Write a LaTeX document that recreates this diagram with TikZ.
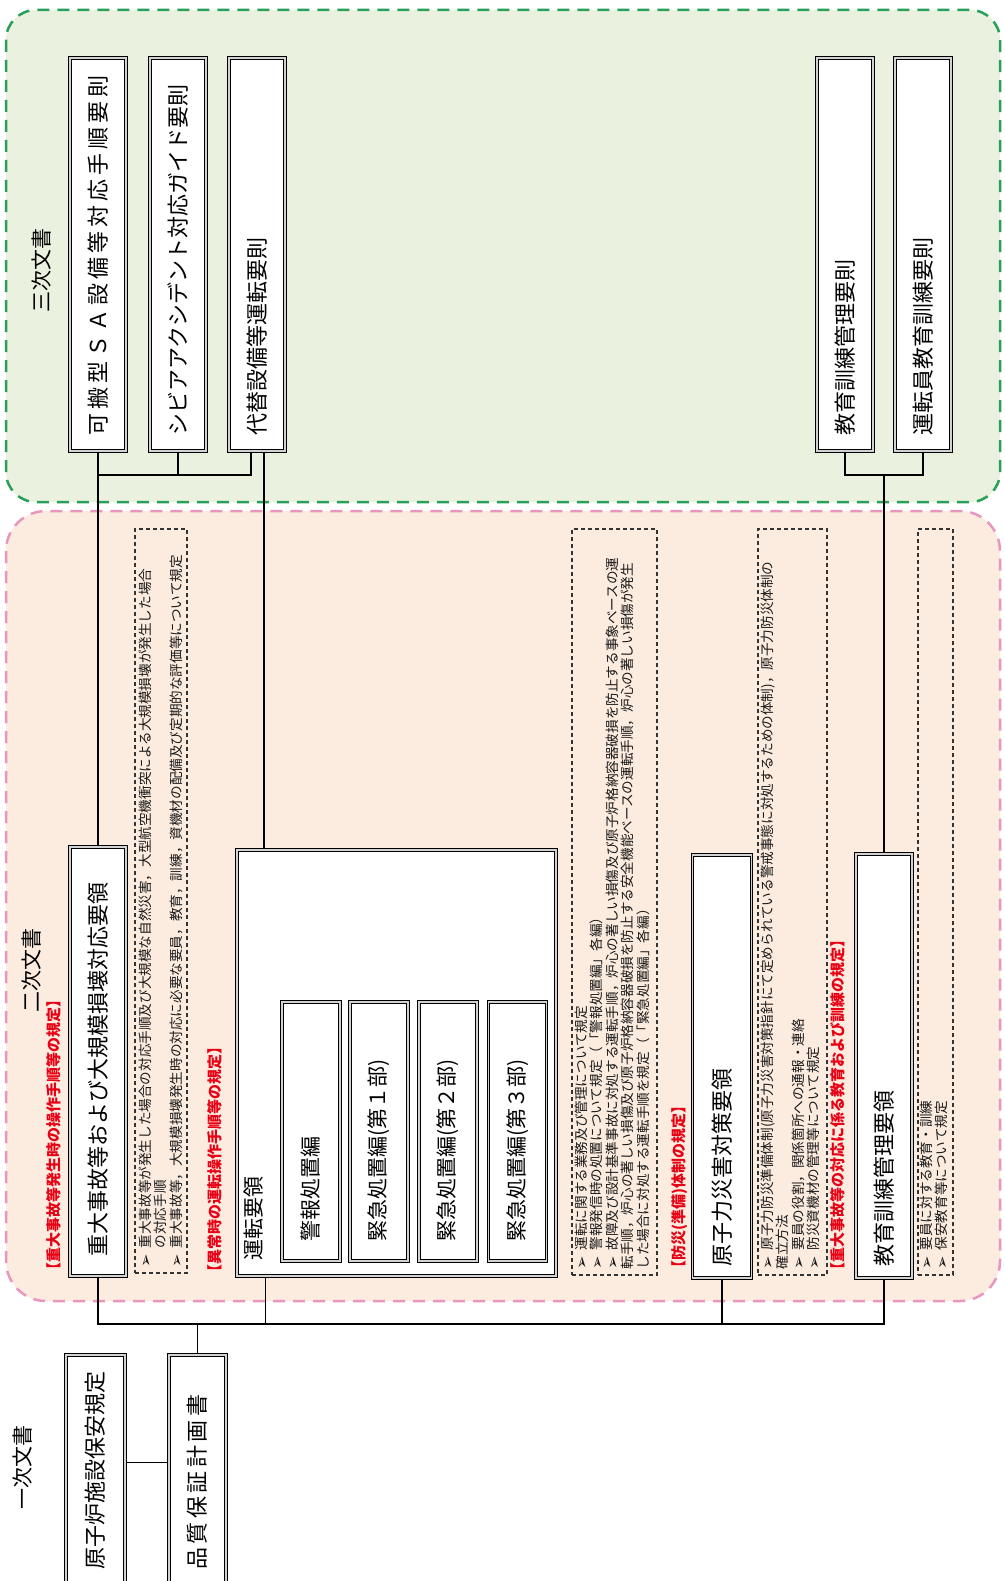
\documentclass[tikz,border=0pt]{standalone}
\usepackage{fontspec}
\setmainfont{Noto Sans CJK JP}
\newfontfamily\dejavu{DejaVu Sans}
\definecolor{pinkfill}{RGB}{252,235,223}
\definecolor{pinkline}{RGB}{232,150,190}
\definecolor{greenfill}{RGB}{234,241,223}
\definecolor{greenline}{RGB}{40,160,90}
\definecolor{labred}{RGB}{232,0,20}
\newcommand\notebul{\makebox[1.4em][l]{\raisebox{-1pt}{\dejavu\fontsize{16}{16}\selectfont ➢}}}
\newcommand\noteind{\hspace*{1.4em}}
\newcommand\spc{\hspace{3.5pt}}
\newcommand\spk{\hspace{4pt}}
\tikzset{
  region/.style={line width=2.5pt, dash pattern=on 12pt off 8pt},
  dbox/.style={draw=black, line width=1.1pt, double=gray!35, double distance=1.6pt, fill=white, inner sep=0pt},
  title/.style={rotate=90, anchor=west, font=\fontsize{22}{22}\selectfont, inner sep=0pt},
  subtitle/.style={rotate=90, anchor=west, font=\fontsize{21}{21}\selectfont, inner sep=0pt},
  level/.style={rotate=90, font=\fontsize{21}{21}\selectfont, inner sep=0pt},
  notebox/.style={draw=black!80, line width=1.2pt, dash pattern=on 4pt off 3pt, inner sep=0pt},
  notetext/.style={rotate=90, anchor=north west, align=left, font=\fontsize{13.6}{15.5}\selectfont, inner sep=0pt, text=black!90},
  redlab/.style={rotate=90, anchor=west, font=\bfseries\fontsize{15}{15}\selectfont, text=labred, inner sep=0pt},
  conn/.style={draw=black, line width=1.8pt}
}
\begin{document}
\begin{tikzpicture}[x=1pt,y=-1pt]
\useasboundingbox (0,0) rectangle (1004,1581);
% regions
\draw[region, fill=greenfill, draw=greenline, rounded corners=30pt] (6,10) rectangle (1000,502);
\draw[region, fill=pinkfill, draw=pinkline, rounded corners=40pt] (6,511) rectangle (1000,1301);
% level labels
\node[level] (lv3) at (42,270) {三次文書};
\node[level] (lv2) at (32,970) {二次文書};
\node[level] (lv1) at (23,1467) {一次文書};
% third-level boxes
\node[dbox, minimum width=56pt, minimum height=393pt] (kahan) at (98,254.5) {};
\node[dbox, minimum width=56pt, minimum height=393pt] (shibia) at (178,254.5) {};
\node[dbox, minimum width=56pt, minimum height=393pt] (daitai) at (257,254.5) {};
\node[dbox, minimum width=56pt, minimum height=393pt] (kyoikuR) at (845,254.5) {};
\node[dbox, minimum width=56pt, minimum height=393pt] (untenR) at (923,254.5) {};
\node[title] at ([yshift=16pt]kahan.south) {可\spk 搬\spk 型\spk Ｓ\spk Ａ\spk 設\spk 備\spk 等\spk 対\spk 応\spk 手\spk 順\spk 要\spk 則};
\node[title] at ([yshift=16pt]shibia.south) {シビアアクシデント対応ガイド要則};
\node[title] at ([yshift=16pt]daitai.south) {代替設備等運転要則};
\node[title] at ([yshift=16pt]kyoikuR.south) {教育訓練管理要則};
\node[title] at ([yshift=16pt]untenR.south) {運転員教育訓練要則};
% second-level boxes
\node[dbox, minimum width=56pt, minimum height=429pt] (juudai) at (98,1061.5) {};
\node[title] at ([yshift=20pt]juudai.south) {重大事故等および大規模損壊対応要領};
\node[dbox, minimum width=319pt, minimum height=426pt] (unten) at (396.5,1063) {};
\node[subtitle] at ([xshift=17pt,yshift=16pt]unten.south west) {運転要領};
\node[dbox, minimum width=58pt, minimum height=259pt] (keiho) at (311,1131.5) {};
\node[dbox, minimum width=58pt, minimum height=259pt] (kin1) at (379,1131.5) {};
\node[dbox, minimum width=58pt, minimum height=259pt] (kin2) at (448,1131.5) {};
\node[dbox, minimum width=58pt, minimum height=259pt] (kin3) at (517.5,1131.5) {};
\node[subtitle] at ([yshift=20pt]keiho.south) {警報処置編};
\node[subtitle] at ([yshift=20pt]kin1.south) {緊急処置編(第１部)};
\node[subtitle] at ([yshift=20pt]kin2.south) {緊急処置編(第２部)};
\node[subtitle] at ([yshift=20pt]kin3.south) {緊急処置編(第３部)};
\node[dbox, minimum width=59pt, minimum height=423pt] (genshi) at (722,1066.5) {};
\node[title] at ([yshift=12pt]genshi.south) {原子力災害対策要領};
\node[dbox, minimum width=56pt, minimum height=424pt] (kyoikuK) at (884,1066) {};
\node[title] at ([yshift=12pt]kyoikuK.south) {教育訓練管理要領};
% first-level boxes
\node[dbox, minimum width=59pt, minimum height=245pt] (hoan) at (95.5,1477.5) {};
\node[dbox, minimum width=57pt, minimum height=245pt] (hinshitsu) at (197.5,1477.5) {};
\node[title] at (95.5,1570) {原子炉施設保安規定};
\node[title] at (197.5,1570) {品\spc 質\spc 保\spc 証\spc 計\spc 画\spc 書};
% note boxes
\node[notebox, minimum width=52pt, minimum height=744pt] (note1) at (161,901) {};
\node[notetext] at ([xshift=4pt,yshift=6pt]note1.south west) {\notebul 重大事故等が発生した場合の対応手順及び大規模な自然災害，大型航空機衝突による大規模損壊が発生した場合\\
\noteind の対応手順\\
\notebul 重大事故等，大規模損壊発生時の対応に必要な要員，教育，訓練，資機材の配備及び定期的な評価等について規定};
\node[notebox, minimum width=85pt, minimum height=746pt] (note2) at (614.5,902) {};
\node[notetext] at ([xshift=3pt,yshift=6pt]note2.south west) {\notebul 運転に関する業務及び管理について規定\\
\notebul 警報発信時の処置について規定（「警報処置編」各編）\\
\notebul 故障及び設計基準事故に対処する運転手順，炉心の著しい損傷及び原子炉格納容器破損を防止する事象ベースの運\\
転手順，炉心の著しい損傷及び原子炉格納容器破損を防止する安全機能ベースの運転手順，炉心の著しい損傷が発生\\
した場合に対処する運転手順を規定（「緊急処置編」各編）};
\node[notebox, minimum width=69pt, minimum height=746pt] (note3) at (792.5,902) {};
\node[notetext] at ([xshift=3pt,yshift=6pt]note3.south west) {\notebul 原子力防災準備体制(原子力災害対策指針にて定められている警戒事態に対処するための体制)，原子力防災体制の\\
確立方法\\
\notebul 要員の役割，関係箇所への通報・連絡\\
\notebul 防災資機材の管理等について規定};
\node[notebox, minimum width=35pt, minimum height=746pt] (note4) at (935.5,902) {};
\node[notetext] at ([xshift=2pt,yshift=6pt]note4.south west) {\notebul 要員に対する教育・訓練\\
\notebul 保安教育等について規定};
% red labels
\node[redlab] (r1) at (54,1278) {【重大事故等発生時の操作手順等の規定】};
\node[redlab] (r2) at (215,1280) {【異常時の運転操作手順等の規定】};
\node[redlab] (r3) at (680,1276) {【防災(準備)体制の規定】};
\node[redlab] (r4) at (838,1278) {【重大事故等の対応に係る教育および訓練の規定】};
% connectors
\coordinate (brA) at (98,475);
\coordinate (brB) at (884,475);
\coordinate (busL) at (98,1324);
\draw[conn] (kahan.south) -- (juudai.north);
\draw[conn] (shibia.south) |- (brA);
\draw[conn] ([xshift=-6pt]daitai.south) |- (brA);
\draw[conn] ([xshift=7pt]daitai.south) -- ([xshift=7pt]daitai.south |- unten.north);
\draw[conn] (kyoikuR.south) |- (brB);
\draw[conn] (untenR.south) |- (brB);
\draw[conn] (brB) -- (kyoikuK.north);
\draw[conn] (juudai.south) -- (busL) -| (kyoikuK.south);
\draw[conn] ([xshift=29pt]unten.south west) -- ([xshift=29pt]unten.south west |- busL);
\draw[conn] (genshi.south) -- (genshi.south |- busL);
\draw[conn] (hinshitsu.north) -- (hinshitsu.north |- busL);
\draw[conn] ([yshift=-108pt]hoan.north east) -- ([yshift=-108pt]hinshitsu.north west);
\end{tikzpicture}
\end{document}
